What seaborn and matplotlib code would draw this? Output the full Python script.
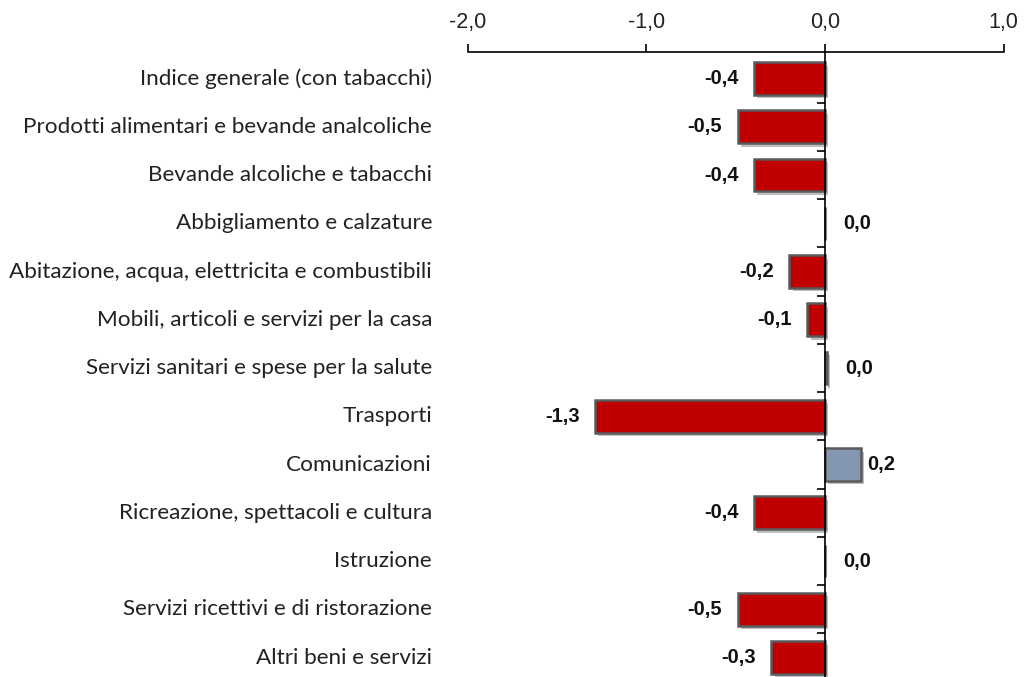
import matplotlib
import matplotlib.pyplot as plt
import matplotlib.patheffects as pe
import matplotlib.transforms as mtransforms
import seaborn as sns

matplotlib.use("Agg")

categories = [
    "Indice generale (con tabacchi)",
    "Prodotti alimentari e bevande analcoliche",
    "Bevande alcoliche e tabacchi",
    "Abbigliamento e calzature",
    "Abitazione, acqua, elettricita e combustibili",
    "Mobili, articoli e servizi per la casa",
    "Servizi sanitari e spese per la salute",
    "Trasporti",
    "Comunicazioni",
    "Ricreazione, spettacoli e cultura",
    "Istruzione",
    "Servizi ricettivi e di ristorazione",
    "Altri beni e servizi",
]
values = [-0.4, -0.49, -0.4, 0.0, -0.2, -0.1, 0.01, -1.29, 0.2, -0.4, 0.0, -0.49, -0.3]
x_ticks = [-2.0, -1.0, 0.0, 1.0]

RED = "#C00000"
BLUE = "#8497B0"

sns.set_theme(style="white")
plt.rcParams["font.family"] = ["Lato", "DejaVu Sans"]

fig = plt.figure(figsize=(10.24, 6.77), dpi=100)
ax = fig.add_axes([0.457, -0.0069, 0.523, 0.9294])

colors = [BLUE if v > 0.05 else RED for v in values]
sns.barplot(x=values, y=categories, hue=categories, palette=colors, legend=False,
            orient="h", width=0.68, ax=ax, saturation=1,
            edgecolor="#5a5a5a", linewidth=1.8)

for patch in ax.patches:
    patch.set_path_effects([
        pe.SimplePatchShadow(offset=(2.5, -2.5), shadow_rgbFace="#000000", alpha=0.25),
        pe.Normal(),
    ])

ax.set_xlim(-2.0, 1.0)
ax.set_ylim(len(categories) - 0.5, -0.54)

# top axis
ax.xaxis.tick_top()
ax.set_xticks(x_ticks)
ax.set_xticklabels([f"{t:.1f}".replace(".", ",") for t in x_ticks],
                   family=["Liberation Sans", "DejaVu Sans"], fontsize=15.5, color="#222222")
ax.tick_params(axis="x", which="major", direction="out", length=6, width=1.2,
               color="black", pad=8, top=True, bottom=False)

for s in ["right", "bottom"]:
    ax.spines[s].set_visible(False)
ax.spines["top"].set_color("black")
ax.spines["top"].set_linewidth(1.2)
ax.spines["left"].set_position(("data", 0))
ax.spines["left"].set_color("black")
ax.spines["left"].set_linewidth(1.2)
ax.spines["left"].set_zorder(5)

# y ticks: separators between categories, labels drawn at far left
ax.set_yticks([i + 0.5 for i in range(len(categories) - 1)])
ax.set_yticklabels([])
ax.tick_params(axis="y", which="major", direction="out", length=6, width=1.2,
               color="black", left=True)
ax.set_ylabel("")
ax.set_xlabel("")

trans = mtransforms.blended_transform_factory(ax.transAxes, ax.transData)
for i, name in enumerate(categories):
    ax.text(-0.067, i, name, transform=trans, ha="right", va="center",
            fontsize=16.2, color="#222222")

for i, v in enumerate(values):
    label = f"{v:.1f}".replace(".", ",")
    if v < -0.05:
        off, ha = -11, "right"
    elif v > 0.05:
        off, ha = 4.5, "left"
    else:
        off, ha = 13, "left"
    ax.annotate(label, xy=(v, i), xytext=(off, 0), textcoords="offset points",
                ha=ha, va="center", fontsize=14.5, fontweight="bold",
                family=["Liberation Sans", "DejaVu Sans"],
                color="#111111")

fig.savefig("out.png", dpi=100)
